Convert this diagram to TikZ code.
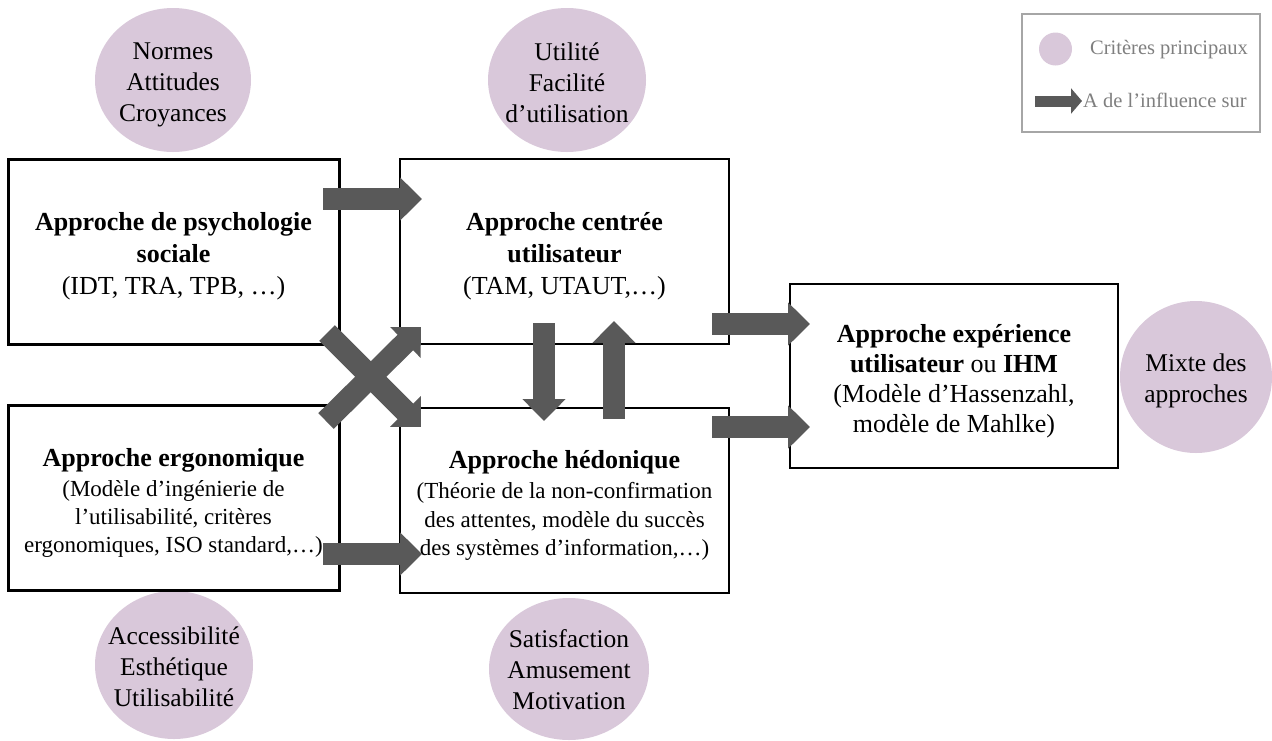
\documentclass[tikz,border=0pt]{standalone}
\usepackage{fontspec}
\setmainfont{Liberation Serif}
\usetikzlibrary{arrows.meta,shapes.geometric}
\definecolor{arrowgray}{HTML}{595959}
\definecolor{lilac}{RGB}{217,200,218}
\definecolor{leggray}{HTML}{7F7F7F}
\definecolor{legborder}{HTML}{A6A6A6}
\begin{document}
\begin{tikzpicture}[x=1pt,y=-1pt,
  thickbox/.style={draw=black, line width=3pt, fill=white, minimum width=331pt, minimum height=185pt, inner sep=0pt},
  thinbox/.style={draw=black, line width=1.2pt, fill=white, minimum width=329pt, minimum height=185pt, inner sep=0pt},
  boxtext/.style={inner sep=0pt, text width=326pt, align=flush center},
  crit/.style={ellipse, fill=lilac, inner sep=0pt},
  crittext/.style={inner sep=0pt, align=center, font=\fontsize{25.5}{31}\selectfont},
  barrow/.style={draw=arrowgray, line width=22pt, -{Triangle[length=22pt,width=42pt]}},
  bigf/.style={font=\fontsize{26}{32}\selectfont}
]
\useasboundingbox (0,0) rectangle (1272,740);

% criteria circles
\node[crit, minimum width=156pt, minimum height=144pt] (c1) at (173,80) {};
\node[crit, minimum width=158pt, minimum height=144pt] (c2) at (567,80) {};
\node[crit, minimum width=158pt, minimum height=148pt] (c3) at (174,665) {};
\node[crit, minimum width=160pt, minimum height=142pt] (c4) at (569,669) {};
\node[crit, minimum width=152pt, minimum height=152pt] (c5) at (1196,377) {};
\node[crittext] (c1t) at ([yshift=-5pt]c1.center) {Normes\\Attitudes\\Croyances};
\node[crittext] (c2t) at ([yshift=-3pt]c2.center) {Utilité\\Facilité\\d’utilisation};
\node[crittext] (c3t) at ([yshift=-2pt]c3.center) {Accessibilité\\Esthétique\\Utilisabilité};
\node[crittext] (c4t) at ([yshift=-1pt]c4.center) {Satisfaction\\Amusement\\Motivation};
\node[crittext] (c5t) at ([yshift=-4pt]c5.center) {Mixte des\\approches};

% boxes
\node[thickbox] (b1) at (173.5,251.5) {};
\node[thickbox] (b2) at (173.5,497.5) {};
\node[thinbox] (b3) at (564.5,251.5) {};
\node[thinbox] (b4) at (564.5,500.5) {};
\node[thinbox, minimum width=328pt, minimum height=184pt] (b5) at (954,376) {};

\node[boxtext, bigf] (b1t) at ([yshift=-5pt]b1.center) {\textbf{Approche de psychologie}\par\textbf{sociale}\par(IDT, TRA, TPB, …)\par};
\node[boxtext] (b2t) at ([yshift=-5pt]b2.center) {{\fontsize{26}{30}\selectfont\textbf{Approche ergonomique}\par}\vspace{2pt}\fontsize{23}{28}\selectfont(Modèle d’ingénierie de\par l’utilisabilité, critères\par ergonomiques, ISO standard,…)\par};
\node[boxtext, bigf] (b3t) at ([yshift=-5pt]b3.center) {\textbf{Approche centrée}\par\textbf{utilisateur}\par(TAM, UTAUT,…)\par};
\node[boxtext] (b4t) at ([yshift=-5pt]b4.center) {{\fontsize{26}{30}\selectfont\textbf{Approche hédonique}\par}\vspace{2pt}\fontsize{23}{28.5}\selectfont(Théorie de la non-confirmation\par des attentes, modèle du succès\par des systèmes d’information,…)\par};
\node[boxtext, font=\fontsize{26}{30}\selectfont] (b5t) at ([yshift=-5pt]b5.center) {\textbf{Approche expérience}\par\textbf{utilisateur} ou \textbf{IHM}\par(Modèle d’Hassenzahl,\par modèle de Mahlke)\par};

% arrow end points
\coordinate (a1s) at (323,199); \coordinate (a1e) at (422,199);
\coordinate (a2s) at (323,554); \coordinate (a2e) at (422,554);
\coordinate (a3s) at (712,324); \coordinate (a3e) at (810,324);
\coordinate (a4s) at (712,427); \coordinate (a4e) at (810,427);
\coordinate (a5s) at (544,323); \coordinate (a5e) at (544,421);
\coordinate (a6s) at (614,419); \coordinate (a6e) at (614,321);
\coordinate (a7s) at (326,421); \coordinate (a7e) at (421,327);
\coordinate (a8s) at (327,333); \coordinate (a8e) at (421,427);

\draw[barrow] (a1s) -- (a1e);
\draw[barrow] (a2s) -- (a2e);
\draw[barrow] (a3s) -- (a3e);
\draw[barrow] (a4s) -- (a4e);
\draw[barrow] (a5s) -- (a5e);
\draw[barrow] (a6s) -- (a6e);
\draw[barrow] (a7s) -- (a7e);
\draw[barrow] (a8s) -- (a8e);

% legend
\node[draw=legborder, line width=1.5pt, minimum width=238pt, minimum height=118pt] (leg) at (1141,73) {};
\node[circle, fill=lilac, minimum size=33pt, inner sep=0pt] (legc) at (1055.5,49) {};
\node[anchor=west, text=leggray, font=\fontsize{20.5}{24}\selectfont, inner sep=0pt] (legt1) at (1090,50) {Critères principaux};
\coordinate (la1) at (1035,101); \coordinate (la2) at (1082,101);
\draw[draw=arrowgray, line width=11pt, -{Triangle[length=11pt,width=25pt]}] (la1) -- (la2);
\node[anchor=west, text=leggray, font=\fontsize{20.5}{24}\selectfont, inner sep=0pt] (legt2) at (1083,100) {A de l’influence sur};
\end{tikzpicture}
\end{document}
